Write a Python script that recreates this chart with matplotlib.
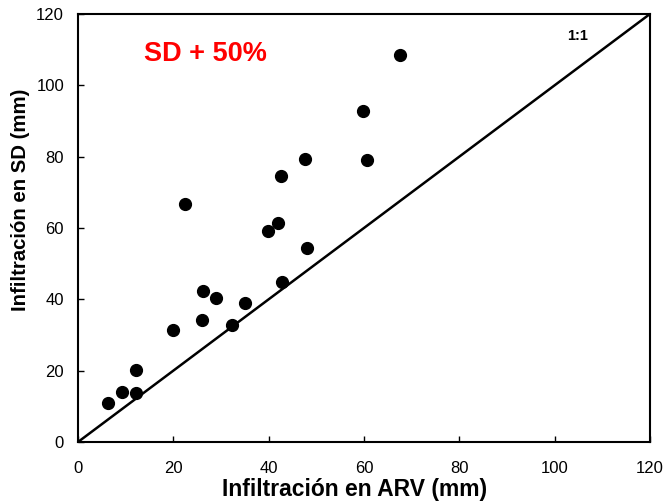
import matplotlib.pyplot as plt

plt.rcParams['font.family'] = ['Liberation Sans', 'DejaVu Sans']

# Infiltración en ARV (mm) vs Infiltración en SD (mm)
arv = [6.2, 9.3, 12.2, 12.2, 20.0, 22.4, 26.0, 26.3, 28.9, 32.3,
       35.0, 39.8, 42.0, 42.8, 42.6, 47.6, 48.1, 59.7, 60.7, 67.5]
sd = [10.8, 14.0, 13.7, 20.2, 31.4, 66.8, 34.1, 42.3, 40.3, 32.9,
      39.0, 59.2, 61.3, 44.9, 74.7, 79.3, 54.4, 92.9, 79.0, 108.5]
ticks = [0, 20, 40, 60, 80, 100, 120]

fig = plt.figure(figsize=(6.69, 5.03), dpi=100)
ax = fig.add_axes([0.1166, 0.1213, 0.855, 0.851])

ax.plot([0, 120], [0, 120], color='black', lw=1.8)  # línea 1:1
ax.plot(arv, sd, 'o', color='black', ms=8.5, mec='black')

ax.text(13.8, 108.8, 'SD + 50%', color='red', fontsize=19.5, fontweight='bold', va='center')
ax.text(104.8, 113.9, '1:1', fontsize=10.5, fontweight='bold', ha='center', va='center')

ax.set_xlim(0, 120)
ax.set_ylim(0, 120)
ax.set_xticks(ticks)
ax.set_yticks(ticks)
ax.tick_params(direction='in', labelsize=12, length=4, width=1, pad=10)
ax.tick_params(axis='x', pad=14)
for s in ax.spines.values():
    s.set_linewidth(1.5)

ax.set_xlabel('Infiltración en ARV (mm)', fontsize=16.5, fontweight='bold', va='center')
ax.set_ylabel('Infiltración en SD (mm)', fontsize=14.7, fontweight='bold', va='center')
ax.xaxis.set_label_coords(0.484, -0.112)
ax.yaxis.set_label_coords(-0.1, 0.566)

fig.savefig('out.png')
